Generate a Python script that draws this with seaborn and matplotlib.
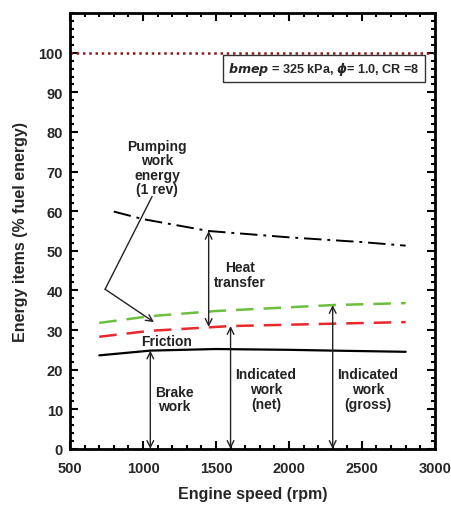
import matplotlib
matplotlib.use("Agg")
import matplotlib.pyplot as plt
import seaborn as sns
import pandas as pd
from matplotlib.ticker import MultipleLocator

# Data
brake_x = [700, 1050, 1500, 2000, 2300, 2800]
brake_y = [23.6, 24.8, 25.2, 25.0, 24.8, 24.5]
net_x = [700, 1050, 1600, 2300, 2800]
net_y = [28.3, 29.8, 31.0, 31.6, 32.0]
gross_x = [700, 1050, 1500, 2300, 2800]
gross_y = [31.8, 33.5, 34.8, 36.3, 36.8]
heat_x = [800, 1000, 1450, 2000, 2500, 2800]
heat_y = [59.9, 58.0, 55.0, 53.4, 52.2, 51.3]

sns.set_theme(style="white")
plt.rcParams['font.family'] = ['Liberation Sans', 'DejaVu Sans']
plt.rcParams['font.weight'] = 'bold'

fig = plt.figure(figsize=(4.52, 5.06), dpi=100)
ax = fig.add_axes([0.155, 0.111, 0.807, 0.861])

sns.lineplot(x=brake_x, y=brake_y, ax=ax, color='black', lw=1.6)
sns.lineplot(x=net_x, y=net_y, ax=ax, color='#e8282b', lw=1.8)
ax.lines[-1].set_dashes([7, 4])
sns.lineplot(x=gross_x, y=gross_y, ax=ax, color='#6cbf3f', lw=1.8)
ax.lines[-1].set_dashes([7, 4])
sns.lineplot(x=heat_x, y=heat_y, ax=ax, color='black', lw=1.4)
ax.lines[-1].set_dashes([9, 3, 1.5, 3])
ax.axhline(100, color='#8b1a1a', lw=1.8, ls=(0, (1, 1.5)))

ax.set_xlim(500, 3000)
ax.set_ylim(0, 110)
ax.set_xticks([500, 1000, 1500, 2000, 2500, 3000])
ax.set_yticks(range(0, 101, 10))
ax.xaxis.set_minor_locator(MultipleLocator(100))
ax.yaxis.set_minor_locator(MultipleLocator(2))
ax.tick_params(which='both', direction='in', top=True, right=True, bottom=True, left=True, width=1.5, color='black')
ax.tick_params(which='major', length=6, labelsize=10.5)
ax.tick_params(axis='x', which='major', pad=9)
ax.tick_params(axis='y', which='major', pad=5)
ax.tick_params(which='minor', length=3)
for lab in ax.get_xticklabels() + ax.get_yticklabels():
    lab.set_fontweight('bold')
for s in ax.spines.values():
    s.set_linewidth(2)
    s.set_color('black')
ax.set_xlabel('Engine speed (rpm)', fontsize=11.5, fontweight='bold', labelpad=8)
ax.set_ylabel('Energy items (% fuel energy)', fontsize=11.5, fontweight='bold', labelpad=8)

def dbl(x, y0, y1):
    ax.annotate('', xy=(x, y1), xytext=(x, y0),
                arrowprops=dict(arrowstyle='<->', color='#222222', lw=1.0, mutation_scale=12,
                                shrinkA=0, shrinkB=0))
dbl(1050, 0, 24.8)
dbl(1600, 0, 31.0)
dbl(2300, 0, 36.3)
dbl(1450, 30.8, 55.0)

fs = 10
tc = '#222222'
ax.text(1164, 27.2, 'Friction', fontsize=fs, ha='center', va='center', fontweight='bold', color=tc)
ax.text(1664, 44, 'Heat\ntransfer', fontsize=fs, ha='center', va='center', fontweight='bold', color=tc, linespacing=1.05)
ax.text(1212, 12.6, 'Brake\nwork', fontsize=fs, ha='center', va='center', fontweight='bold', color=tc, linespacing=1.05)
ax.text(1842, 15.1, 'Indicated\nwork\n(net)', fontsize=fs, ha='center', va='center', fontweight='bold', color=tc, linespacing=1.05)
ax.text(2541, 15.1, 'Indicated\nwork\n(gross)', fontsize=fs, ha='center', va='center', fontweight='bold', color=tc, linespacing=1.05)
ax.text(1096, 71.0, 'Pumping\nwork\nenergy\n(1 rev)', fontsize=fs, ha='center', va='center', fontweight='bold', color=tc, linespacing=1.05)

ax.plot([740, 1062], [40.3, 63.7], color=tc, lw=1.0)
ax.annotate('', xy=(1075, 32.0), xytext=(740, 40.3),
            arrowprops=dict(arrowstyle='->', color=tc, lw=1.0, mutation_scale=12, shrinkA=0, shrinkB=0))

ax.text(2240, 96, r'$\it{bmep}$ = 325 kPa, $\phi$= 1.0, CR =8', fontsize=9.1, ha='center', va='center',
        fontweight='bold', bbox=dict(boxstyle='square,pad=0.4', fc='white', ec='#333333', lw=1.0))

fig.savefig('out.png', dpi=100)
